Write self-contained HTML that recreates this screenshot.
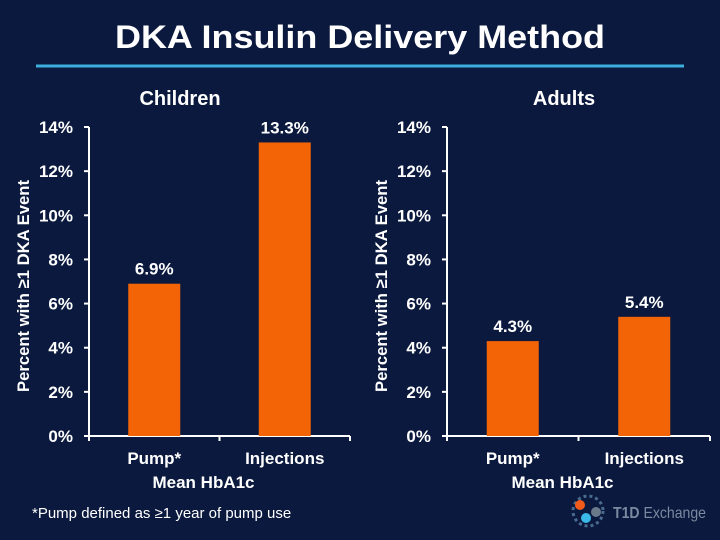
<!DOCTYPE html>
<html><head><meta charset="utf-8"><style>
body{margin:0;background:#0a1a3f;}
svg{display:block;font-family:"Liberation Sans",sans-serif;}
</style></head><body>
<svg id="c" width="720" height="540" viewBox="0 0 720 540">
<rect width="720" height="540" fill="#0a193d"/>
<text x="360" y="48" text-anchor="middle" fill="#fff" font-size="32" font-weight="bold" textLength="490" lengthAdjust="spacingAndGlyphs">DKA Insulin Delivery Method</text>
<line x1="36" y1="66" x2="684" y2="66" stroke="#3aaedc" stroke-width="3"/>
<text x="32" y="518" fill="#fff" font-size="15">*Pump defined as ≥1 year of pump use</text>
<g>
<circle cx="588" cy="511" r="15" fill="none" stroke="#4a6a90" stroke-width="3" stroke-dasharray="3 3"/>
<circle cx="580" cy="505" r="5" fill="#f05a1a"/>
<circle cx="586" cy="518" r="5" fill="#3ab8e8"/>
<circle cx="596" cy="512" r="5" fill="#6a7a8a"/>
<text x="613" y="518" fill="#7a8aa0" font-size="16" font-weight="bold" textLength="93" lengthAdjust="spacingAndGlyphs">T1D <tspan font-weight="normal">Exchange</tspan></text>
</g>
<g id="plots"></g>
</svg>
<script>
const ticks=[0,2,4,6,8,10,12,14];
const childCats=["Pump*","Injections"];
const childVals=[6.9,13.3];
const childLabels=["6.9%","13.3%"];
const adultCats=["Pump*","Injections"];
const adultVals=[4.3,5.4];
const adultLabels=["4.3%","5.4%"];
const NS="http://www.w3.org/2000/svg";
const g=document.getElementById('plots');
function mk(tag,attrs,parent,txt){const e=document.createElementNS(NS,tag);for(const k in attrs)e.setAttribute(k,attrs[k]);if(txt!==undefined)e.textContent=txt;parent.appendChild(e);return e;}
function panel(name,title,x0,x1,titleX,cats,vals,labels){
  const pg=mk('g',{},g);
  
  
  const y0=436,yTop=127,max=14;
  const y=v=>y0-(v/max)*(y0-yTop);
  const bw=(x1-x0)/cats.length;
  const t=mk('text',{x:titleX,y:105,'text-anchor':'middle',fill:'#fff','font-size':20,'font-weight':'bold'},pg,title);
  
  
  const ax=mk('line',{x1:x0,y1:yTop,x2:x0,y2:y0,stroke:'#fff','stroke-width':2},pg);
  
  
  const xa=mk('line',{x1:x0,y1:y0,x2:x1,y2:y0,stroke:'#fff','stroke-width':2},pg);
  
  
  ticks.forEach(v=>{
    const tl=mk('line',{x1:x0-5,y1:y(v),x2:x0,y2:y(v),stroke:'#fff','stroke-width':2},pg);
    
    
    const tt=mk('text',{x:x0-16,y:y(v)+6,'text-anchor':'end',fill:'#fff','font-size':17,'font-weight':'bold'},pg,v+'%');
    
    
  });
  for(let i=0;i<=cats.length;i++){
    const xt=x0+i*bw;
    const tk=mk('line',{x1:xt,y1:y0,x2:xt,y2:y0+5,stroke:'#fff','stroke-width':2},pg);
    
    
  }
  cats.forEach((c,i)=>{
    const cx=x0+bw*(i+0.5);
    const b=mk('rect',{x:cx-26,y:y(vals[i]),width:52,height:y0-y(vals[i]),fill:'#f26405'},pg);
    
    
    const l=mk('text',{x:cx,y:y(vals[i])-9,'text-anchor':'middle',fill:'#fff','font-size':17,'font-weight':'bold'},pg,labels[i]);
    
    
    const cl=mk('text',{x:cx,y:464,'text-anchor':'middle',fill:'#fff','font-size':17,'font-weight':'bold'},pg,c);
    
    
  });
  const xt=mk('text',{x:(x0+x1)/2-16,y:488,'text-anchor':'middle',fill:'#fff','font-size':17,'font-weight':'bold'},pg,'Mean HbA1c');
  
  
  const yx=x0-60, yc=280;
  const yt=mk('text',{x:yx,y:yc+6,'text-anchor':'middle',fill:'#fff','font-size':17,'font-weight':'bold',textLength:212,lengthAdjust:'spacingAndGlyphs',transform:`rotate(-90 ${yx} ${yc+6})`},pg,'Percent with ≥1 DKA Event');
  
  
}
panel('children','Children',89,350,180,childCats,childVals,childLabels);
panel('adults','Adults',447,710,564,adultCats,adultVals,adultLabels);
</script>
</body></html>
